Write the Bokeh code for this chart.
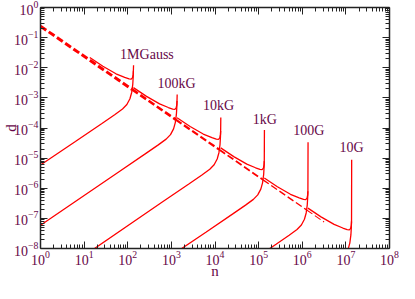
import numpy as np
from bokeh.plotting import figure
from bokeh.models import LogAxis, FixedTicker, Label, Range1d
from bokeh.embed import file_html
from bokeh.resources import INLINE

# ---- data (log10 values) ----
field_names = ["1MGauss", "100kG", "10kG", "1kG", "100G", "10G"]

lower_log_n = [
    [0, 0.8, 1.4, 1.7, 1.88, 1.98, 2.05, 2.09, 2.115, 2.125, 2.13, 2.133],
    [0, 1.8, 2.4, 2.7, 2.88, 2.98, 3.05, 3.09, 3.115, 3.125, 3.13, 3.133],
    [0, 2.8, 3.4, 3.7, 3.88, 3.98, 4.05, 4.09, 4.115, 4.125, 4.13, 4.133],
    [2.9, 3.8, 4.4, 4.7, 4.88, 4.98, 5.05, 5.09, 5.115, 5.125, 5.13, 5.133],
    [4.8, 5.4, 5.7, 5.88, 5.98, 6.05, 6.09, 6.115, 6.125, 6.13, 6.133],
    [6.7, 6.88, 6.98, 7.05, 7.09, 7.115, 7.125, 7.13, 7.133],
]
lower_log_d = [
    [-5.23, -4.45, -3.86, -3.56, -3.37, -3.22, -3.03, -2.82, -2.55, -2.3, -2.05, -1.92],
    [-7.23, -5.45, -4.86, -4.56, -4.37, -4.22, -4.03, -3.82, -3.55, -3.3, -3.05, -2.89],
    [-9.23, -6.45, -5.86, -5.56, -5.37, -5.22, -5.03, -4.82, -4.55, -4.3, -4.05, -3.65],
    [-8.33, -7.45, -6.86, -6.56, -6.37, -6.22, -6.03, -5.82, -5.55, -5.3, -5.05, -4.07],
    [-8.45, -7.86, -7.56, -7.37, -7.22, -7.03, -6.82, -6.55, -6.3, -6.05, -4.47],
    [-8.56, -8.37, -8.22, -8.03, -7.82, -7.55, -7.3, -7.05, -5.05],
]
upper_log_n = [
    [1.13, 1.43, 1.73, 1.93, 2.03, 2.08, 2.11, 2.125, 2.13],
    [2.13, 2.43, 2.73, 2.93, 3.03, 3.08, 3.11, 3.125, 3.13],
    [3.13, 3.43, 3.73, 3.93, 4.03, 4.08, 4.11, 4.125, 4.13],
    [4.13, 4.43, 4.73, 4.93, 5.03, 5.08, 5.11, 5.125, 5.13],
    [5.13, 5.43, 5.73, 5.93, 6.03, 6.08, 6.11, 6.125, 6.13],
    [6.13, 6.43, 6.73, 6.93, 7.03, 7.08, 7.11, 7.125, 7.13],
]
upper_log_d = [
    [-1.66, -1.95, -2.20, -2.32, -2.37, -2.38, -2.33, -2.22, -2.10],
    [-2.66, -2.95, -3.20, -3.32, -3.37, -3.38, -3.33, -3.22, -3.10],
    [-3.66, -3.95, -4.20, -4.32, -4.37, -4.38, -4.33, -4.22, -4.10],
    [-4.66, -4.95, -5.20, -5.32, -5.37, -5.38, -5.33, -5.22, -5.10],
    [-5.66, -5.95, -6.20, -6.32, -6.37, -6.38, -6.33, -6.22, -6.10],
    [-6.66, -6.95, -7.20, -7.32, -7.37, -7.38, -7.33, -7.22, -7.10],
]

# dashed asymptote d ~ 0.24/n, drawn in segments of decreasing weight
dash_log_n = [0, 2.1, 3.1, 4.1, 5.1, 6.1, 6.5]
dash_log_d = [-0.62, -2.72, -3.72, -4.72, -5.72, -6.72, -7.12]
dash_widths = [3.0, 2.6, 2.2, 1.8, 1.4, 1.1]

label_log_n = [2.44, 3.12, 4.08, 5.14, 6.15, 7.13]
label_log_d = [-1.57, -2.53, -3.26, -3.71, -4.08, -4.66]

x_ticks_exp = list(range(0, 9))
y_ticks_exp = list(range(-8, 1))

RED = "#ff0000"
MAROON = "#670748"
AXIS = "#222222"
FONT = "Liberation Serif"

p = figure(width=399, height=283, x_axis_type="log", y_axis_type="log",
           x_range=Range1d(1, 1e8), y_range=Range1d(1e-8, 1),
           output_backend="svg", toolbar_location=None,
           min_border_left=35, min_border_right=10,
           min_border_top=7, min_border_bottom=35)
p.outline_line_color = None
p.xgrid.visible = False
p.ygrid.visible = False
p.background_fill_color = "white"
p.border_fill_color = "white"

xt = [10.0 ** e for e in x_ticks_exp]
yt = [10.0 ** e for e in y_ticks_exp]
xminor = [k * 10.0 ** e for e in x_ticks_exp[:-1] for k in range(2, 10)]
yminor = [k * 10.0 ** e for e in y_ticks_exp[:-1] for k in range(2, 10)]

def style_axis(ax, show_labels):
    ax.axis_line_color = AXIS
    ax.axis_line_width = 1.5
    ax.major_tick_line_color = AXIS
    ax.minor_tick_line_color = AXIS
    ax.major_tick_in = 7
    ax.major_tick_out = 0
    ax.minor_tick_in = 4
    ax.minor_tick_out = 0
    ax.major_label_text_font = FONT
    ax.major_label_text_color = MAROON
    if show_labels:
        ax.major_label_text_font_size = "14px"
        ax.major_label_standoff = 2
    else:
        ax.major_label_text_font_size = "1px"
        ax.major_label_text_alpha = 0
        ax.major_label_standoff = 0

p.xaxis.ticker = FixedTicker(ticks=xt, minor_ticks=xminor)
p.yaxis.ticker = FixedTicker(ticks=yt, minor_ticks=yminor)
for ax in p.xaxis + p.yaxis:
    style_axis(ax, True)
    ax.axis_label_text_font = FONT
    ax.axis_label_text_font_size = "15px"
    ax.axis_label_text_font_style = "normal"
    ax.axis_label_text_color = MAROON
p.xaxis.axis_label_standoff = -5
p.yaxis.axis_label_standoff = -8
p.xaxis.axis_label = "n"
p.yaxis.axis_label = "d"

top = LogAxis(ticker=FixedTicker(ticks=xt, minor_ticks=xminor))
right = LogAxis(ticker=FixedTicker(ticks=yt, minor_ticks=yminor))
style_axis(top, False)
style_axis(right, False)
p.add_layout(top, "above")
p.add_layout(right, "right")

# dashed asymptote
for i, w in enumerate(dash_widths):
    p.line(x=[10.0 ** dash_log_n[i], 10.0 ** dash_log_n[i + 1]],
           y=[10.0 ** dash_log_d[i], 10.0 ** dash_log_d[i + 1]],
           line_color=RED, line_width=w, line_dash="7 3")

# field curves
for ln_, ld_ in zip(lower_log_n, lower_log_d):
    p.line(x=10.0 ** np.array(ln_), y=10.0 ** np.array(ld_),
           line_color=RED, line_width=1.3)
for ln_, ld_ in zip(upper_log_n, upper_log_d):
    p.line(x=10.0 ** np.array(ln_), y=10.0 ** np.array(ld_),
           line_color=RED, line_width=1.3)

for name, lx, ly in zip(field_names, label_log_n, label_log_d):
    p.add_layout(Label(x=10.0 ** lx, y=10.0 ** ly, text=name,
                       text_align="center", text_baseline="middle",
                       text_font=FONT, text_font_size="14px",
                       text_color=MAROON))

open("out.html", "w").write(file_html(p, INLINE))
